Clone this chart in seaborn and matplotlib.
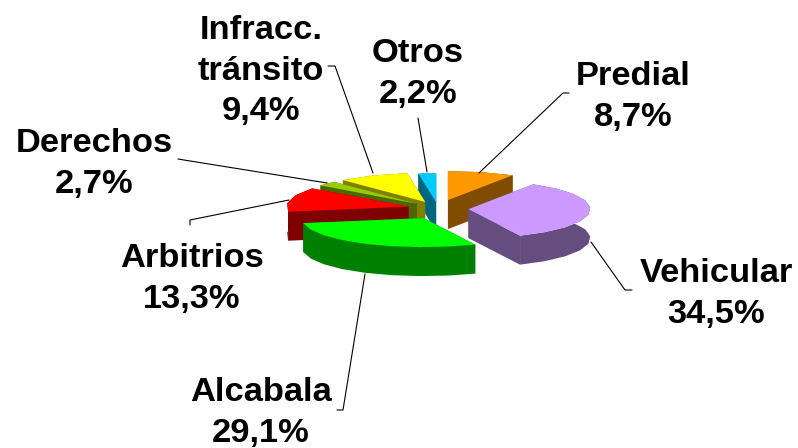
import numpy as np
import matplotlib
matplotlib.use("Agg")
import matplotlib.pyplot as plt
import seaborn as sns

# Data
categories = ["Predial", "Vehicular", "Alcabala", "Arbitrios", "Derechos", "Infracc.\ntránsito", "Otros"]
shares = [8.7, 34.5, 29.1, 13.3, 2.7, 9.4, 2.2]
colors = ["#FF9900", "#CC99FF", "#00FF00", "#FF0000", "#99CC00", "#FFFF00", "#00CCFF"]
explode = [0.30, 0.25, 0.25, 0.25, 0.24, 0.25, 0.21]

sns.set_theme(style="white")
plt.rcParams["font.family"] = ["Liberation Sans", "DejaVu Sans"]

# pie geometry in pixels
cx, cy = 438, 208.5
rx, ry = 122, 29
depth = 29
# rim is a bit fuller than a true ellipse
rim = 0.97

# back to front
draw_order = [6, 5, 4, 3, 0, 1, 2]

# label centres and leader lines, same order as categories
label_pos = [(633, 97), (716, 294), (261, 413), (192, 279), (94, 164), (261, 71), (418, 74)]
leaders = [
    [(479, 173), (563, 93), (569, 93)],
    [(591, 242), (625, 290), (632, 290)],
    [(365, 274), (343, 410), (337, 410)],
    [(289, 200), (190, 220), (190, 225)],
    [(327, 183), (184, 160), (178, 159)],
    [(373, 173), (335, 66), (328, 66)],
    [(427, 172), (418, 118)],
]

fig, ax = plt.subplots(figsize=(7.98, 4.48), dpi=100)
ax.set_position([0, 0, 1, 1])
ax.set_xlim(0, 798)
ax.set_ylim(448, 0)
ax.axis("off")

edges = np.cumsum([0] + shares) / sum(shares) * 2 * np.pi


def darker(c):
    return tuple(v * 0.5 for v in matplotlib.colors.to_rgb(c))


for i in draw_order:
    start, stop = edges[i], edges[i + 1]
    mid = (start + stop) / 2
    # front slices move a bit further down the page
    front = 1.5 if np.cos(mid) < 0 else 1.0
    ax0 = cx + explode[i] * rx * np.sin(mid)
    ay0 = cy - explode[i] * ry * np.cos(mid) * front

    t = np.linspace(start, stop, max(3, int((stop - start) / 0.2)))
    px = ax0 + rx * np.sign(np.sin(t)) * np.abs(np.sin(t)) ** rim
    py = ay0 - ry * np.sign(np.cos(t)) * np.abs(np.cos(t)) ** rim
    wall = darker(colors[i])

    # outer wall, then the radial walls, back one first
    ax.fill(np.r_[px, px[::-1]], np.r_[py, py[::-1] + depth], color=wall, lw=0)
    ends = sorted([0, -1], key=lambda k: py[k])
    for k in ends:
        ax.fill([ax0, px[k], px[k], ax0], [ay0, py[k], py[k] + depth, ay0 + depth], color=wall, lw=0)
    ax.fill(np.r_[ax0, px], np.r_[ay0, py], color=colors[i], lw=0)

for name, val, pos, line in zip(categories, shares, label_pos, leaders):
    xs, ys = zip(*line)
    ax.plot(xs, ys, color="black", lw=0.8)
    txt = name + "\n" + f"{val:.1f}".replace(".", ",") + "%"
    ax.text(pos[0], pos[1], txt, ha="center", va="center", fontsize=24.8, weight="bold",
            color="black", linespacing=1.39)

plt.savefig("out.png", dpi=100)
plt.close()
